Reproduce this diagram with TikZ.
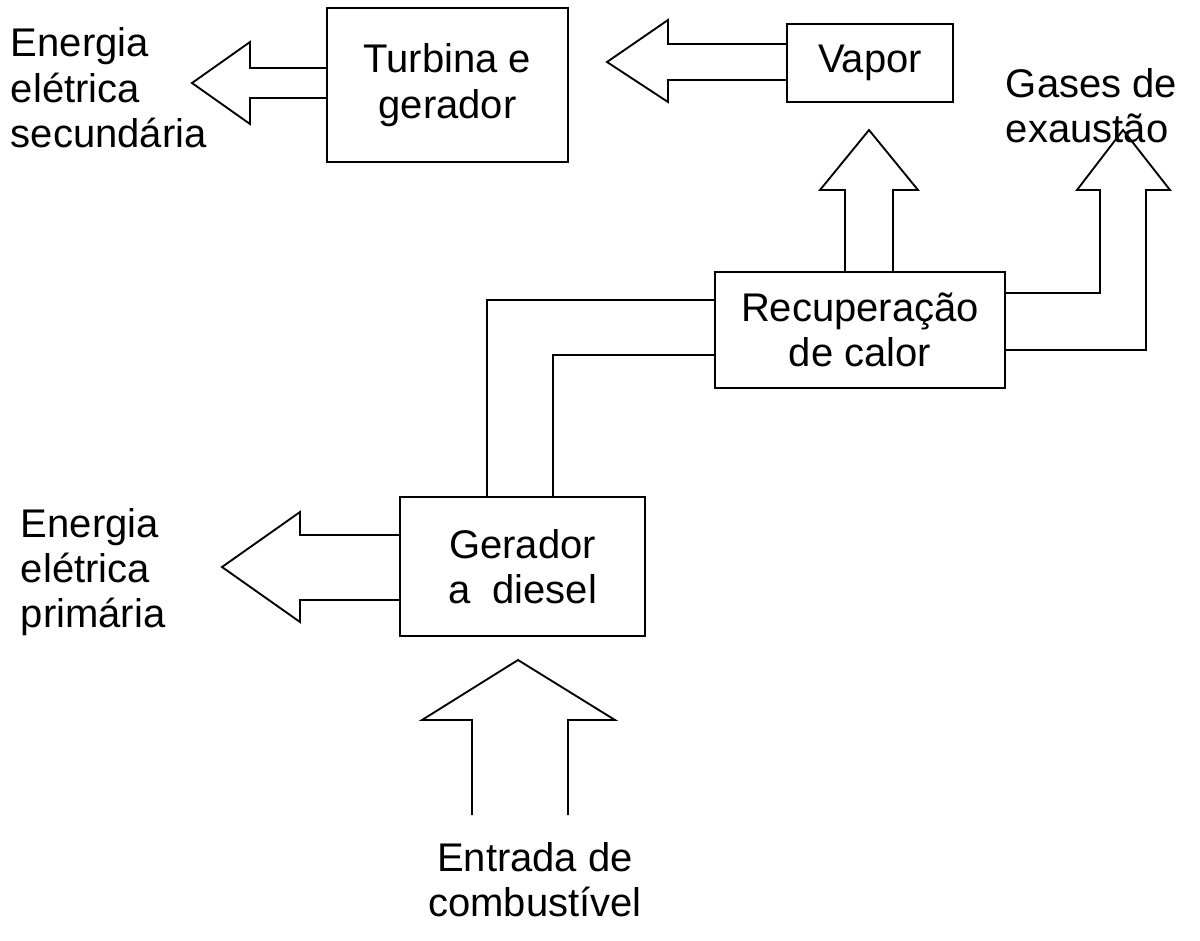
\documentclass[tikz,border=0pt]{standalone}
\usepackage{fontspec}
\setmainfont{Liberation Sans}
\usepackage{tikz}
\begin{document}
\begin{tikzpicture}[x=0.75pt,y=0.75pt,yscale=-1,xscale=1,line width=1.4pt,
  blk/.style={draw,align=center,inner sep=0pt,font=\fontsize{30}{34}\selectfont},
  lbl/.style={align=left,inner sep=0pt,font=\fontsize{30}{34}\selectfont}]
\useasboundingbox (0,0) rectangle (1200,940);

% Blocks
\node [blk,minimum width=180.75pt,minimum height=115.5pt] (turb) at (447.5,85) {Turbina e\\gerador};
\node [blk,minimum width=124.5pt,minimum height=58.5pt] (vap) at (870,63) {Vapor};
\node [blk,minimum width=217.5pt,minimum height=87pt] (rec) at (860,330) {Recupera\c{c}\~ao\\de calor};
\node [blk,minimum width=183.75pt,minimum height=104.25pt] (dies) at (522.5,566.5) {Gerador\\a\ \ diesel};

% Text Nodes
\node [lbl,anchor=west] (sec) at (10,88) {Energia\\el\'etrica\\secund\'aria};
\node [lbl,anchor=west] (gas) at (1005,106) {Gases de\\exaust\~ao};
\node [lbl,anchor=west] (pri) at (20,572) {Energia\\el\'etrica\\prim\'aria};
\node [lbl,align=center] (ent) at (535,880) {Entrada de\\combust\'ivel};

% Hollow arrows
\draw (turb.west |- 0,68) -- (250,68) -- (250,42) -- (192,83) -- (250,124) -- (250,98) -- (turb.west |- 0,98);
\draw (vap.west |- 0,44) -- (668,44) -- (668,20) -- (607,62) -- (668,102) -- (668,80) -- (vap.west |- 0,80);
\draw (rec.north -| 845,0) -- (845,190) -- (820,190) -- (869,130) -- (918,190) -- (893,190) -- (rec.north -| 893,0);
\draw (rec.east |- 0,293) -- (1100,293) -- (1100,190) -- (1077,190) -- (1123,130) -- (1170,190) -- (1146,190) -- (1146,350) -- (rec.east |- 0,350);
\draw (dies.west |- 0,535) -- (300,535) -- (300,512) -- (222,567) -- (300,622) -- (300,600) -- (dies.west |- 0,600);
\draw (472,815) -- (472,720) -- (422,720) -- (518,660) -- (615,720) -- (568,720) -- (568,815);

% Pipe
\draw (dies.north -| 487,0) -- (487,300) -- (rec.west |- 0,300);
\draw (dies.north -| 553,0) -- (553,355) -- (rec.west |- 0,355);
\end{tikzpicture}
\end{document}
